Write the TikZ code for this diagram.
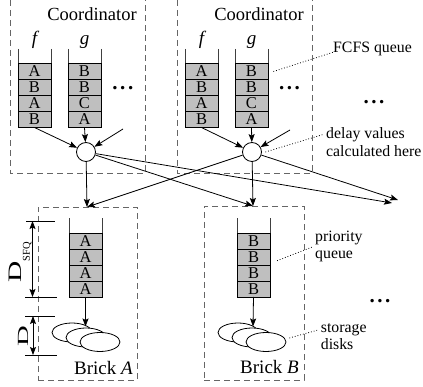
\documentclass[tikz,border=0pt]{standalone}
\usepackage{fontspec}
\setmainfont{Liberation Serif}
\usetikzlibrary{arrows.meta,shapes.geometric}

\tikzset{
  box/.style={draw=black!60, line width=0.9pt, dash pattern=on 6pt off 4pt},
  cell/.style={draw, fill=black!25, line width=0.8pt, minimum width=33pt,
    minimum height=16pt, inner sep=0pt, font=\fontsize{16.5}{16.5}\selectfont},
  wall/.style={draw=black!75, line width=0.8pt},
  conn/.style={line width=0.8pt, -{Stealth[length=8pt,width=6pt,inset=1.5pt]}},
  lead/.style={line width=0.8pt, dotted},
  hub/.style={circle, draw, fill=white, line width=0.8pt, minimum size=19pt, inner sep=0pt},
  disk/.style={ellipse, draw, fill=white, line width=0.8pt, minimum width=40pt,
    minimum height=19pt, inner sep=0pt},
  title/.style={font=\fontsize{18.5}{18.5}\selectfont, inner sep=0pt, anchor=base},
  qname/.style={font=\fontsize{19}{19}\selectfont\itshape, inner sep=0pt, anchor=base},
  note/.style={font=\fontsize{15.8}{15.8}\selectfont, inner sep=0pt, anchor=base west},
  more/.style={font=\fontsize{21}{21}\selectfont\bfseries, inner sep=0pt},
  dimline/.style={line width=0.8pt},
  dimarrow/.style={line width=0.8pt,
    {Stealth[length=8pt,width=6pt,inset=1.5pt]}-{Stealth[length=8pt,width=6pt,inset=1.5pt]}},
}

% a queue: name, left x, top of the cells, list of entries (top to bottom)
\newcommand{\fifo}[4]{%
  \draw[wall] (#2,#3-14.5) -- (#2,#3) (#2+33,#3-14.5) -- (#2+33,#3);
  \foreach \t [count=\i from 0] in {#4} {
    \node[cell] (#1-\i) at (#2+16.5,#3+8+16*\i) {\t};
  }
  \coordinate (#1-bot) at (#2+16.5,#3+64);
}
\newcommand{\threedots}{.\hspace{2.6pt}.\hspace{2.6pt}.}

\begin{document}
\begin{tikzpicture}[x=1pt,y=-1pt]
\useasboundingbox (0,0) rectangle (423,387);

% coordinators
\draw[box] (10,-10) rectangle (145,173);
\draw[box] (177,-10) rectangle (312,173);
\node[title] (coordA) at (92,21) {Coordinator};
\node[title] (coordB) at (259,21) {Coordinator};

\fifo{fA}{18}{63.5}{A,B,A,B}
\fifo{gA}{68}{63.5}{B,B,C,A}
\fifo{fB}{185}{63.5}{A,B,A,B}
\fifo{gB}{235}{63.5}{B,B,C,A}

\node[qname] (lfA) at (34.5,45) {f};
\node[qname] (lgA) at (84.5,45) {g};
\node[qname] (lfB) at (201.5,45) {f};
\node[qname] (lgB) at (251.5,45) {g};

\node[more] (moreA) at (122.8,88.3) {\threedots};
\node[more] (moreB) at (289.5,88.3) {\threedots};
\node[more] (moreC) at (374,102) {\threedots};
\node[more] (moreD) at (380,301) {\threedots};

% delay computation points
\node[hub] (hA) at (86,152) {};
\node[hub] (hB) at (252,152) {};
\coordinate (inA) at (123,129);
\coordinate (inB) at (290,130);
\draw[conn] (fA-bot) -- (hA);
\draw[conn] (gA-bot) -- (hA);
\draw[conn] (inA) -- (hA);
\draw[conn] (fB-bot) -- (hB);
\draw[conn] (gB-bot) -- (hB);
\draw[conn] (inB) -- (hB);

% bricks
\node[box, rectangle, minimum width=99pt, minimum height=173pt, inner sep=0pt]
  (brickA) at (87.5,293.5) {};
\node[box, rectangle, minimum width=100pt, minimum height=174pt, inner sep=0pt]
  (brickB) at (254,293) {};
\node[title, anchor=base east, font=\fontsize{19}{19}\selectfont] (nameA) at (133,374) {Brick \textit{A}};
\node[title, anchor=base east, font=\fontsize{19}{19}\selectfont] (nameB) at (299,373.3) {Brick \textit{B}};

\coordinate (topA) at (87,207);
\coordinate (topB) at (253,206);
\coordinate (farA) at (392,203);
\coordinate (farB) at (398,200);
\draw[conn] (hA) -- (topA);
\draw[conn] (hA) -- (topB);
\draw[conn] (hA) -- (farA);
\draw[conn] (hB) -- (topA);
\draw[conn] (hB) -- (topB);
\draw[conn] (hB) -- (farB);

\fifo{qA}{69}{233}{A,A,A,A}
\fifo{qB}{237}{233}{B,B,B,B}

% storage disks
\node[disk] (dA1) at (72,332.5) {};
\node[disk] (dA2) at (86,337.5) {};
\node[disk] (dA3) at (100,342) {};
\node[disk] (dB1) at (238,332.5) {};
\node[disk] (dB2) at (252,337.5) {};
\node[disk] (dB3) at (266,342) {};
\coordinate (dtopA) at (85.5,326.5);
\coordinate (dtopB) at (253,326.5);
\draw[conn] (qA-bot) -- (dtopA);
\draw[conn] (qB-bot) -- (dtopB);

% dimensions
\coordinate (s1) at (26,221);  \coordinate (s2) at (55,221);
\coordinate (s3) at (25,297);  \coordinate (s4) at (57,297);
\coordinate (s5) at (25,316);  \coordinate (s6) at (55,316);
\coordinate (s7) at (25,355);  \coordinate (s8) at (57,355);
\draw[dimline] (s1) -- (s2) (s3) -- (s4) (s5) -- (s6) (s7) -- (s8);
\coordinate (a1) at (32.5,221); \coordinate (a2) at (32.5,297);
\coordinate (a3) at (33,316);   \coordinate (a4) at (33,355);
\draw[dimarrow] (a1) -- (a2);
\draw[dimarrow] (a3) -- (a4);
\node[rotate=90, inner sep=0pt] (dsfq) at (20.5,262.5)
  {\fontsize{19}{19}\selectfont\scalebox{1.55}[1]{D}\raisebox{-8pt}{\fontsize{10.5}{10.5}\selectfont SFQ}};
\node[rotate=90, inner sep=0pt] (ddisk) at (23.3,336)
  {\fontsize{15.5}{15.5}\selectfont\scalebox{1.85}[1]{D}};

% annotations
\node[note] (fcfs) at (333,52.3) {FCFS queue};
\node[note] (delay1) at (326,138.3) {delay values};
\node[note] (delay2) at (326,157) {calculated here};
\node[note] (prio1) at (315,241.5) {priority};
\node[note] (prio2) at (315,258.3) {queue};
\node[note] (stor1) at (320.7,332) {storage};
\node[note] (stor2) at (320.7,349) {disks};

\draw[lead] ([xshift=5pt]gB-0.east) -- (fcfs.base west);
\draw[lead] ([xshift=3.5pt]hB.east) -- ([xshift=-3pt]delay1.west);
\draw[lead] ([shift={(6.7pt,-3.7pt)}]qB-1.east) -- ([shift={(-2pt,-5.2pt)}]prio1.base west);
\draw[lead] ([shift={(3pt,4pt)}]dB3.east) -- ([shift={(-2.7pt,2pt)}]stor1.base west);
\end{tikzpicture}
\end{document}
